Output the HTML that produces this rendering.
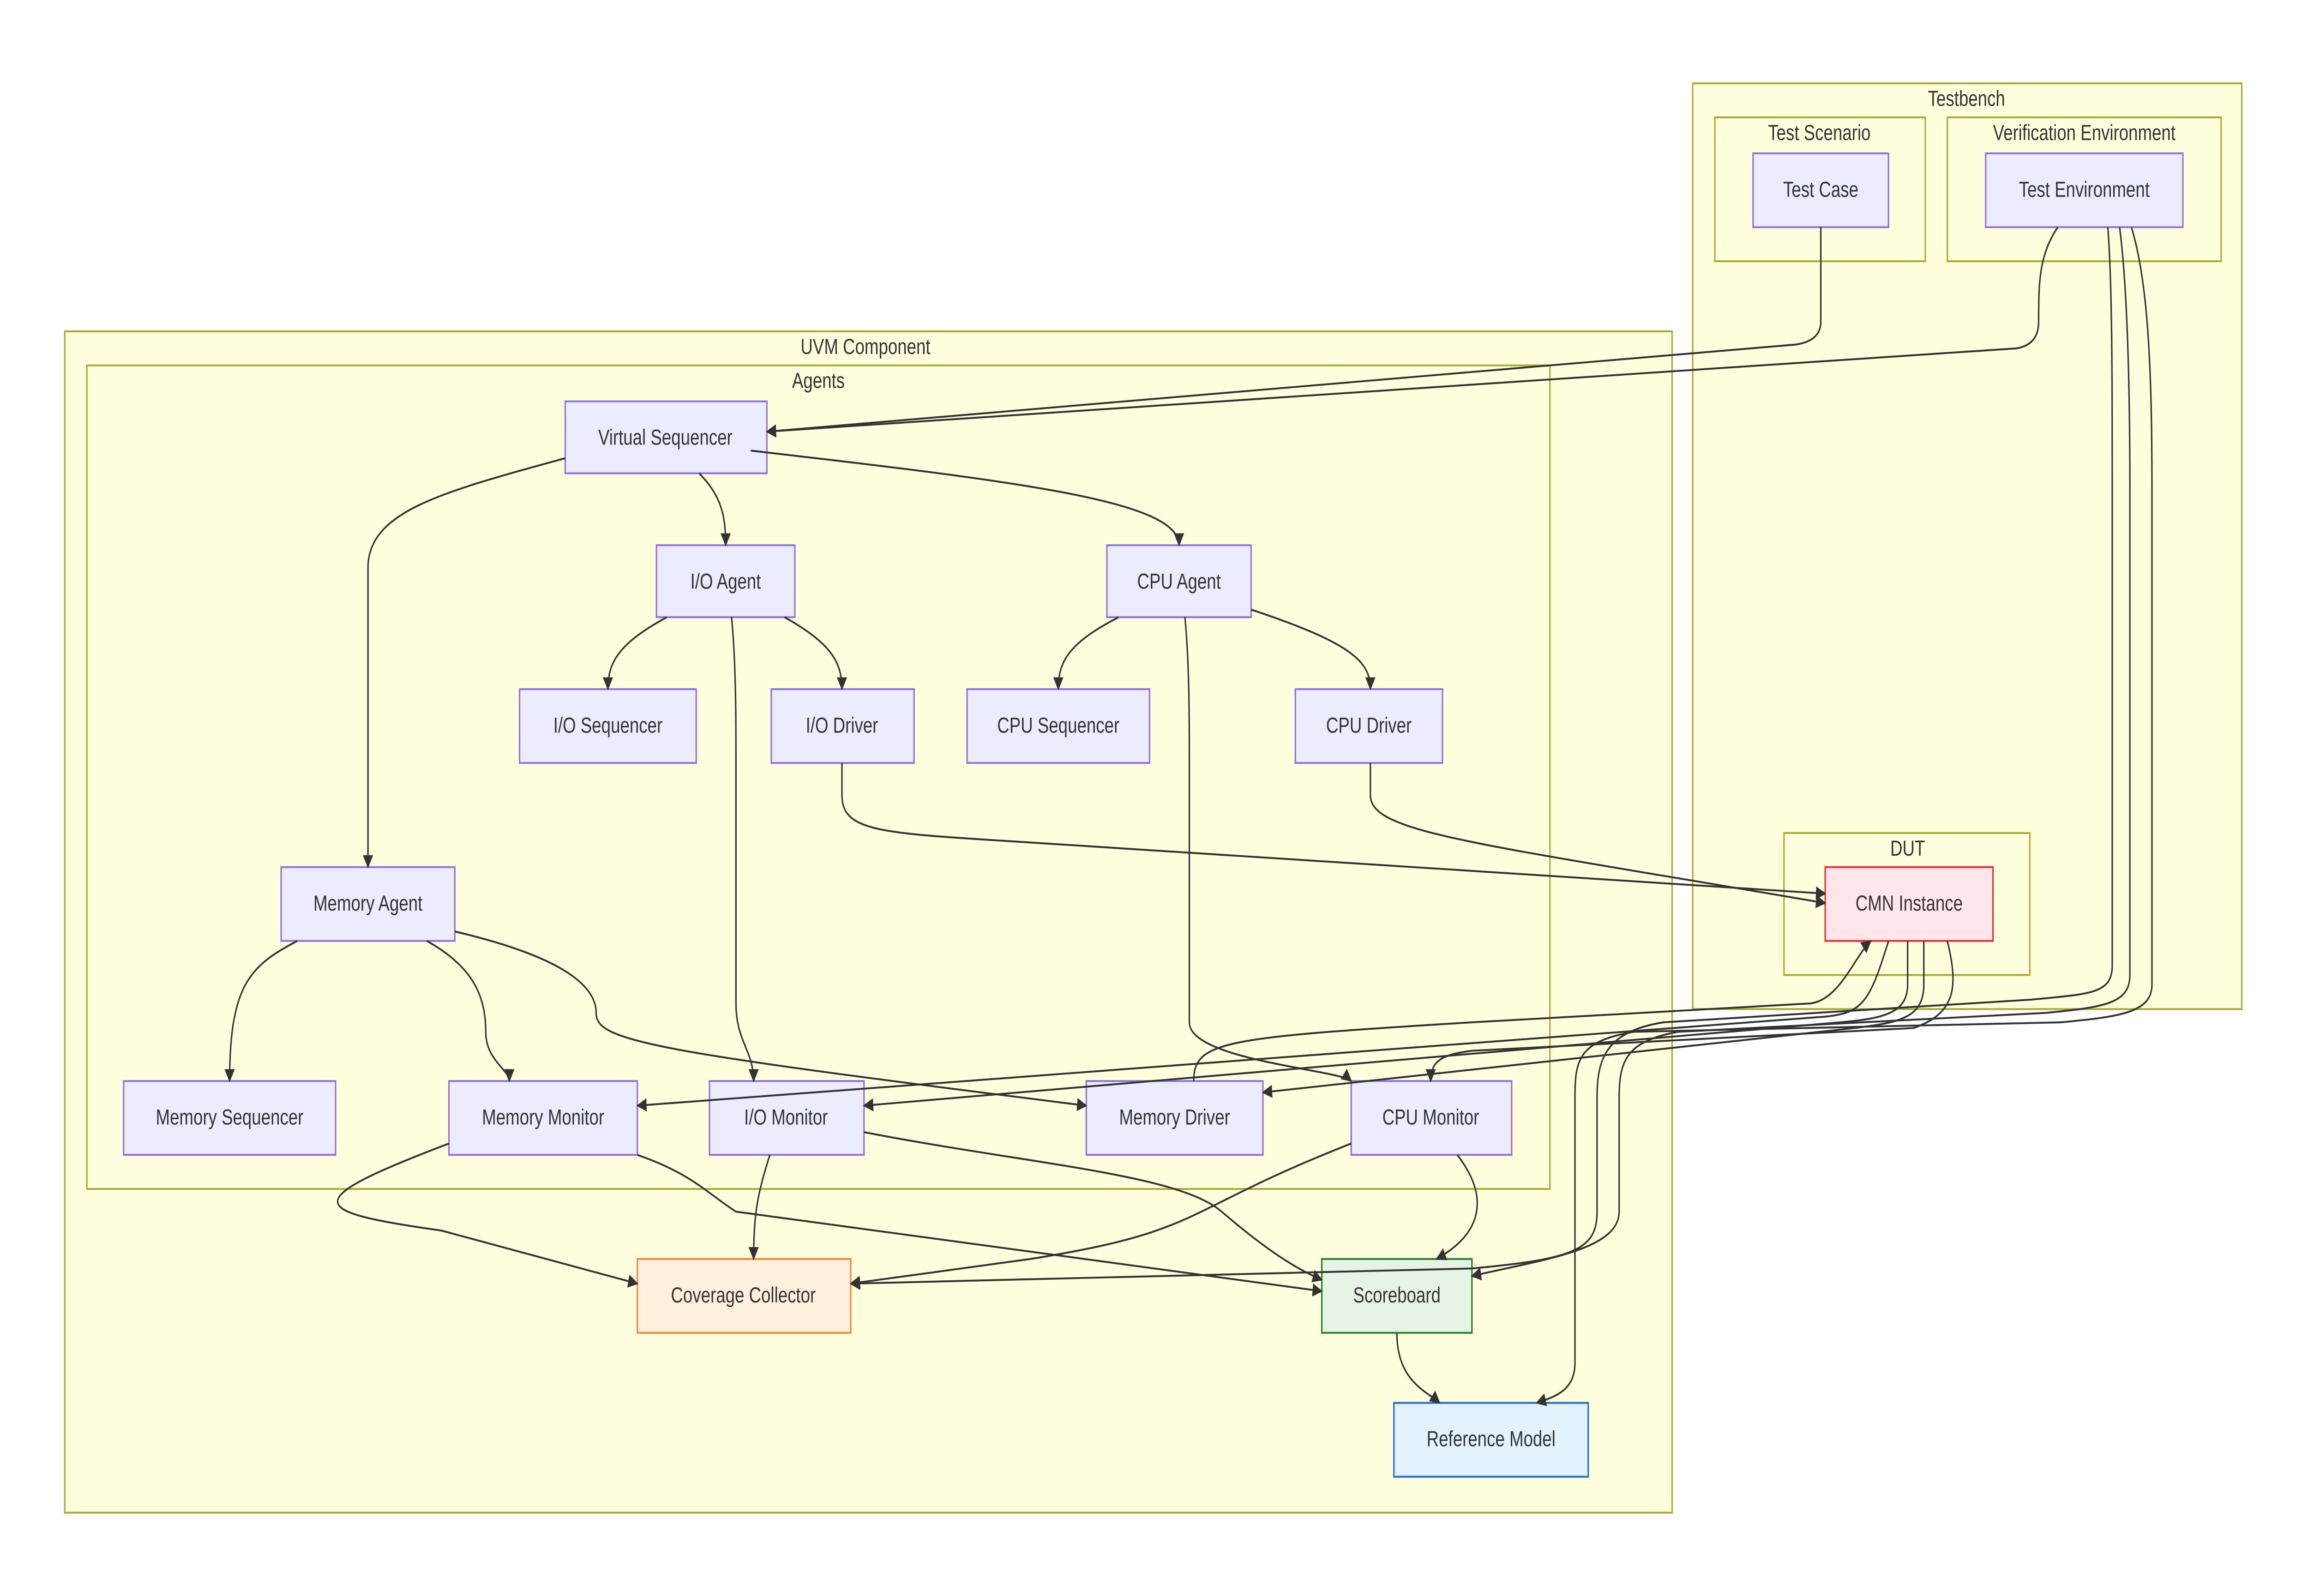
<!DOCTYPE html>
<html><head><meta charset="utf-8"><style>
html,body{margin:0;padding:0;background:#fff;width:100%;height:100%;overflow:hidden;}
svg{display:block;width:100vw;height:100vh;}
text{font-family:"Liberation Sans",sans-serif;font-size:11.5px;fill:#333;text-anchor:middle;dominant-baseline:central;}
.c{fill:#ffffde;stroke:#aaaa33;stroke-width:1;}
.n{fill:#ececff;stroke:#9370db;stroke-width:1;}
.e{fill:none;stroke:#333;stroke-width:1;marker-end:url(#a);}
</style></head><body>
<svg viewBox="0 0 1568 843" preserveAspectRatio="none" xmlns="http://www.w3.org/2000/svg">
<defs><marker id="a" viewBox="0 0 10 10" refX="9" refY="5" markerWidth="7" markerHeight="7" orient="auto"><path d="M0,0L10,5L0,10z" fill="#333"/></marker></defs>
<rect width="1568" height="843" fill="#fff"/>
<rect class="c" x="1150" y="44" width="373" height="489"/><text x="1336" y="52">Testbench</text>
<rect class="c" x="1165" y="62" width="143" height="76"/><text x="1236" y="70">Test Scenario</text>
<rect class="c" x="1323" y="62" width="186" height="76"/><text x="1416" y="70">Verification Environment</text>
<rect class="c" x="1212" y="440" width="167" height="75"/><text x="1296" y="448">DUT</text>
<rect class="c" x="44" y="175" width="1092" height="624"/><text x="588" y="183">UVM Component</text>
<rect class="c" x="59" y="193" width="994" height="435"/><text x="556" y="201">Agents</text>

<rect class="n" x="1191" y="81" width="92" height="39"/><text x="1237" y="100">Test Case</text>
<rect class="n" x="1349" y="81" width="134" height="39"/><text x="1416" y="100">Test Environment</text>
<rect x="1240" y="458" width="114" height="39" fill="#ffe6ea" stroke="#e0303a"/><text x="1297" y="477">CMN Instance</text>
<rect class="n" x="384" y="212" width="137" height="38"/><text x="452" y="231">Virtual Sequencer</text>
<rect class="n" x="446" y="288" width="94" height="38"/><text x="493" y="307">I/O Agent</text>
<rect class="n" x="752" y="288" width="98" height="38"/><text x="801" y="307">CPU Agent</text>
<rect class="n" x="353" y="364" width="120" height="39"/><text x="413" y="383">I/O Sequencer</text>
<rect class="n" x="524" y="364" width="97" height="39"/><text x="572" y="383">I/O Driver</text>
<rect class="n" x="657" y="364" width="124" height="39"/><text x="719" y="383">CPU Sequencer</text>
<rect class="n" x="880" y="364" width="100" height="39"/><text x="930" y="383">CPU Driver</text>
<rect class="n" x="191" y="458" width="118" height="39"/><text x="250" y="477">Memory Agent</text>
<rect class="n" x="84" y="571" width="144" height="39"/><text x="156" y="590">Memory Sequencer</text>
<rect class="n" x="305" y="571" width="128" height="39"/><text x="369" y="590">Memory Monitor</text>
<rect class="n" x="482" y="571" width="105" height="39"/><text x="534" y="590">I/O Monitor</text>
<rect class="n" x="738" y="571" width="120" height="39"/><text x="798" y="590">Memory Driver</text>
<rect class="n" x="918" y="571" width="109" height="39"/><text x="972" y="590">CPU Monitor</text>
<rect x="433" y="665" width="145" height="39" fill="#fff0dd" stroke="#f0883a"/><text x="505" y="684">Coverage Collector</text>
<rect x="898" y="665" width="102" height="39" fill="#e6f4e6" stroke="#2e7d32"/><text x="949" y="684">Scoreboard</text>
<rect x="947" y="741" width="132" height="39" fill="#e3f2fd" stroke="#1e6fd0"/><text x="1013" y="760">Reference Model</text>

<path class="e" d="M1237,120 V170 Q1237,180 1220,182 L521,228"/>
<path class="e" d="M1398,120 C1385,135 1385,150 1385,170 Q1385,182 1370,184 L521,228"/>
<path class="e" d="M475,250 C490,262 493,272 493,288"/>
<path class="e" d="M510,238 C700,255 801,265 801,288"/>
<path class="e" d="M384,242 C300,260 250,270 250,300 V458"/>
<path class="e" d="M453,326 C420,340 413,350 413,364"/>
<path class="e" d="M533,326 C565,340 572,350 572,364"/>
<path class="e" d="M497,326 C500,350 500,380 500,400 V530 C500,550 512,555 512,571"/>
<path class="e" d="M760,326 C725,340 719,350 719,364"/>
<path class="e" d="M850,322 C920,340 931,350 931,364"/>
<path class="e" d="M805,326 C808,350 808,380 808,400 V540 C808,560 910,565 918,571"/>
<path class="e" d="M572,403 V420 C572,440 600,440 700,445 L1240,472"/>
<path class="e" d="M931,403 V420 C931,440 1000,445 1240,477"/>
<path class="e" d="M202,497 C170,510 156,520 156,571"/>
<path class="e" d="M290,497 C320,510 330,525 330,545 C330,560 346,565 346,571"/>
<path class="e" d="M309,492 C380,505 405,520 405,535 C405,550 440,555 738,584"/>
<path class="e" d="M811,571 C811,550 830,548 1000,540 L1230,530 C1250,528 1260,505 1271,497"/>
<path class="e" d="M1283,497 C1270,530 1265,535 1240,537 L433,584"/>
<path class="e" d="M1296,497 V520 C1296,535 1280,538 1250,540 L587,584"/>
<path class="e" d="M1307,497 V520 C1307,538 1290,540 1260,543 L858,577"/>
<path class="e" d="M1323,497 C1330,520 1330,535 1300,543 L1000,555 C980,557 972,560 972,571"/>
<path class="e" d="M1432,120 C1435,150 1435,200 1435,260 V510 C1435,525 1420,525 1380,528 L1130,540 C1090,545 1085,560 1085,580 V640 C1085,660 1070,665 1000,670 L578,678"/>
<path class="e" d="M1440,120 C1445,150 1447,200 1447,260 V515 C1447,530 1430,532 1390,535 L1140,545 C1105,550 1100,560 1100,580 V640 C1100,660 1050,665 1000,674"/>
<path class="e" d="M1448,120 C1460,150 1462,200 1462,260 V520 C1462,535 1440,537 1400,540 L1110,545 C1072,550 1070,560 1070,580 V720 C1070,735 1055,738 1044,741"/>
<path class="e" d="M305,604 C200,635 210,640 300,650 L433,678"/>
<path class="e" d="M523,610 C515,630 512,640 512,665"/>
<path class="e" d="M918,604 C800,640 820,650 700,665 L578,678"/>
<path class="e" d="M433,610 C470,620 480,630 500,640 L898,682"/>
<path class="e" d="M587,598 C700,615 800,620 830,640 C860,660 880,670 898,676"/>
<path class="e" d="M990,610 C1010,630 1010,650 976,665"/>
<path class="e" d="M949,704 C949,730 970,735 978,741"/>
</svg>
</body></html>
